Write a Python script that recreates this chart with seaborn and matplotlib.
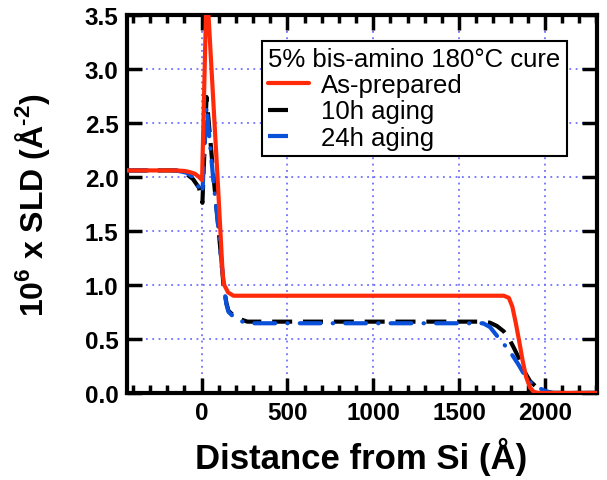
import matplotlib
matplotlib.use("Agg")
import matplotlib.pyplot as plt
from matplotlib.ticker import MultipleLocator, FormatStrFormatter
from matplotlib.lines import Line2D
import pandas as pd
import seaborn as sns

# SLD depth profiles (distance from Si in Angstrom, 10^6 x SLD in A^-2)
prep_z = [-435, -150, -100, -70, -40, -15, 3, 30, 93, 123, 132, 155, 186, 250,
          1760, 1790, 1810, 1830, 1850, 1870, 1890, 1913, 1935, 1960, 2305]
prep_sld = [2.06, 2.06, 2.055, 2.045, 2.03, 2.0, 1.97, 3.8, 2.0, 1.1, 1.0, 0.93, 0.9, 0.9,
            0.9, 0.88, 0.8, 0.65, 0.48, 0.3, 0.15, 0.05, 0.01, 0.0, 0.0]

aged10_z = [-435, -150, -90, -50, -15, 5, 29, 70, 100, 128, 145, 157, 190, 230, 267, 400,
            1640, 1680, 1720, 1760, 1785, 1815, 1843, 1880, 1913, 1953, 2010, 2050, 2305]
aged10_sld = [2.06, 2.06, 2.03, 1.98, 1.9, 1.76, 2.74, 2.0, 1.5, 1.0, 0.83, 0.76, 0.71, 0.68, 0.66, 0.66,
              0.66, 0.65, 0.62, 0.57, 0.52, 0.43, 0.34, 0.2, 0.11, 0.05, 0.01, 0.0, 0.0]

aged24_z = [-435, -150, -90, -50, -15, 5, 29, 70, 100, 128, 145, 157, 190, 230, 267, 400,
            1640, 1680, 1720, 1767, 1810, 1843, 1880, 1913, 1953, 2000, 2040, 2305]
aged24_sld = [2.06, 2.06, 2.04, 2.0, 1.9, 1.85, 2.65, 1.95, 1.5, 1.0, 0.82, 0.75, 0.7, 0.665, 0.645, 0.645,
              0.645, 0.61, 0.53, 0.44, 0.35, 0.27, 0.17, 0.1, 0.055, 0.02, 0.0, 0.0]

series_labels = ["As-prepared", "10h aging", "24h aging"]
legend_title = "5% bis-amino 180°C cure"

sns.set_theme(style="white")
plt.rcParams["font.family"] = ["Liberation Sans", "DejaVu Sans"]
plt.rcParams["mathtext.fontset"] = "custom"
plt.rcParams["mathtext.rm"] = "Liberation Sans:bold"
plt.rcParams["mathtext.bf"] = "Liberation Sans:bold"
for key in ("text.color", "axes.labelcolor", "xtick.color", "ytick.color", "axes.edgecolor"):
    plt.rcParams[key] = "black"

fig = plt.figure(figsize=(6.07, 4.81), dpi=100)
ax = fig.add_axes([0.209, 0.181, 0.775, 0.786])

red = "#ff2a0a"
black = "#000000"
blue = "#0a50d8"
lw = 3.0

df10 = pd.DataFrame({"z": aged10_z, "sld": aged10_sld})
df24 = pd.DataFrame({"z": aged24_z, "sld": aged24_sld})
dfp = pd.DataFrame({"z": prep_z, "sld": prep_sld})

sns.lineplot(data=df10, x="z", y="sld", ax=ax, color=black, lw=lw, sort=False,
             estimator=None, zorder=3)
ln10 = ax.lines[-1]
ln10.set_dashes((4.8, 2.6))
sns.lineplot(data=df24, x="z", y="sld", ax=ax, color=blue, lw=lw, sort=False,
             estimator=None, zorder=4)
ln24 = ax.lines[-1]
ln24.set_dashes((5.0, 2.9, 0.1, 2.9))
ln24.set_dash_capstyle("round")
sns.lineplot(data=dfp, x="z", y="sld", ax=ax, color=red, lw=lw, sort=False,
             estimator=None, zorder=5)

ax.set_xlim(-435, 2305)
ax.set_ylim(0, 3.5)

ax.xaxis.set_major_locator(MultipleLocator(500))
ax.xaxis.set_minor_locator(MultipleLocator(100))
ax.yaxis.set_major_locator(MultipleLocator(0.5))
ax.yaxis.set_major_formatter(FormatStrFormatter("%.1f"))

ax.grid(True, which="major", color="#7070ff", linestyle=(0, (1, 2.5)), lw=1.3)

ax.tick_params(which="major", direction="in", length=11, width=2.5,
               bottom=True, top=True, left=True, right=True,
               labelsize=17.5, pad=6, color="black")
ax.tick_params(axis="x", which="minor", direction="in", length=6, width=2.5,
               bottom=True, top=True, color="black")
ax.tick_params(axis="y", which="minor", left=False, right=False)
for lab in ax.get_xticklabels() + ax.get_yticklabels():
    lab.set_fontweight("bold")

for sp in ax.spines.values():
    sp.set_linewidth(3)
    sp.set_color("black")

ax.set_xlabel("Distance from Si (Å)", fontsize=25, fontweight="bold")
ax.xaxis.set_label_coords(0.498, -0.115)
ax.set_ylabel(r"10$^{6}$ x SLD (Å$^{\text{-}2}$)", fontsize=23, fontweight="bold")
ax.yaxis.set_label_coords(-0.16, 0.5)

handles = [
    Line2D([], [], color=red, lw=lw),
    Line2D([], [], color=black, lw=lw, dashes=(4.8, 10)),
    Line2D([], [], color=blue, lw=lw, dashes=(4.8, 10)),
]
leg = ax.legend(handles, series_labels, title=legend_title, loc="upper left",
                bbox_to_anchor=(0.287, 0.931), fontsize=18.5, title_fontsize=18.5,
                frameon=True, fancybox=False, framealpha=1, edgecolor="black",
                borderpad=0.25, labelspacing=0.08, handlelength=1.6, handletextpad=0.45,
                borderaxespad=0)
leg.get_frame().set_linewidth(1.5)
leg._legend_box.align = "left"

fig.savefig("out.png", dpi=100)
